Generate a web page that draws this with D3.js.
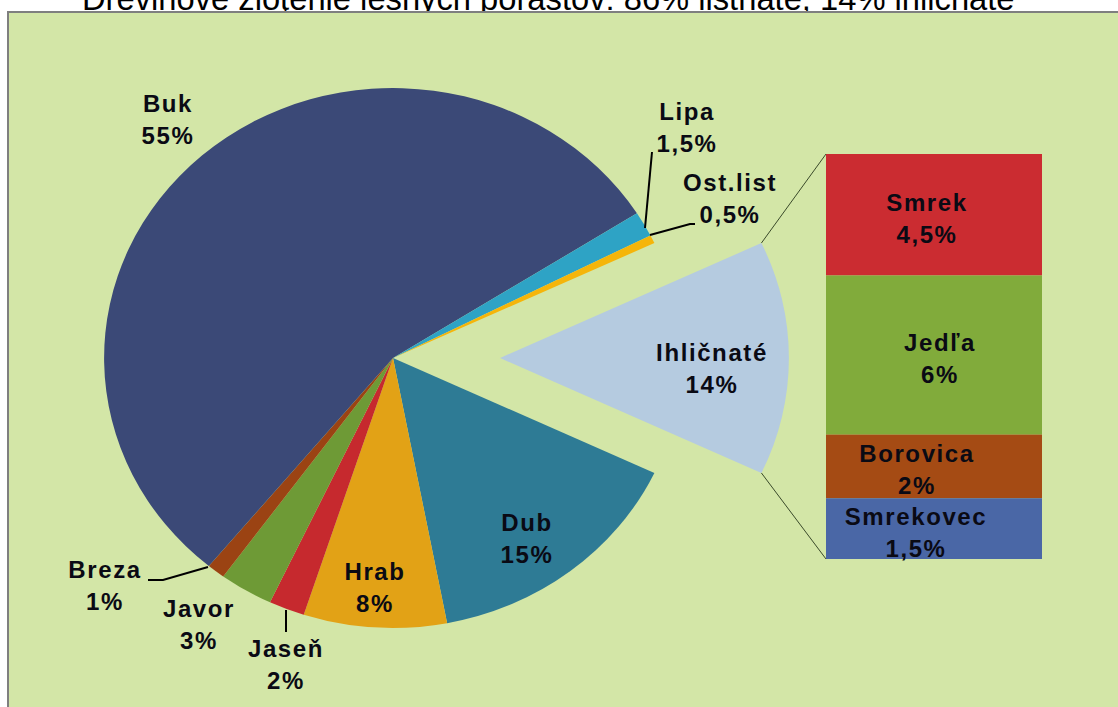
<!DOCTYPE html>
<html>
<head>
<meta charset="utf-8">
<script src="https://cdn.jsdelivr.net/npm/d3@7"></script>
<style>
  body { margin: 0; background: #fff; }
  svg { display: block; }
  text { font-family: "Liberation Sans", Arial, sans-serif; }
</style>
</head>
<body>
<svg id="chart"></svg>
<script>
var width = 1118;
var height = 707;

// main pie, clockwise starting with the split-off slice
var pieNames = ["Ihličnaté", "Dub", "Hrab", "Jaseň", "Javor", "Breza", "Buk", "Lipa", "Ost.list"];
var pieValues = [14, 15, 8, 2, 3, 1, 55, 1.5, 0.5];
var pieLabels = ["14%", "15%", "8%", "2%", "3%", "1%", "55%", "1,5%", "0,5%"];
var pieColors = ["#b5cbe0", "#2e7b95", "#e2a216", "#c6292e", "#6e9a36", "#9b4313", "#3b4977", "#2ea3c5", "#f5b50a"];

// bar of pie (breakdown of Ihličnaté)
var barNames = ["Smrek", "Jedľa", "Borovica", "Smrekovec"];
var barValues = [4.2, 5.5, 2.2, 2.1];
var barLabels = ["4,5%", "6%", "2%", "1,5%"];
var barColors = ["#cb2c31", "#81ab3b", "#a54b14", "#4a67a6"];

var titleText = "Drevinové zloţenie lesných porastov: 86% listnaté, 14% ihličnaté";

//Geometry
var cx = 393, cy = 358;
var radius = 270;
var stretchX = 1.07; //pie is drawn slightly wider than tall
var explode = 100;
var startDeg = 64.8;

//Label anchors (x center, first baseline)
var pieLabelPos = [[712, 361], [527, 531], [375, 580], [286, 657], [199, 617], [105, 578], [168, 112], [687, 120], [730, 191]];
var barLabelDx = [-7, 6, -17, -18];

var svg = d3.select("#chart")
  .attr("width", width)
  .attr("height", height);

//Title (top half cut off in the original)
var title = svg.append("text")
  .attr("x", 82)
  .attr("y", 10)
  .attr("font-size", 30)
  .attr("fill", "#000")
  .text(titleText);
var tl = title.node().getComputedTextLength();
title.attr("font-size", 30 * 933 / tl);

//Plot panel
svg.append("rect")
  .attr("x", 8)
  .attr("y", 12)
  .attr("width", width + 20)
  .attr("height", height + 20)
  .attr("fill", "#d3e6a7")
  .attr("stroke", "#7f7f7f")
  .attr("stroke-width", 2);

var pie = d3.pie()
  .sort(null)
  .value(function(d) { return d; })
  .startAngle(startDeg * Math.PI / 180)
  .endAngle(startDeg * Math.PI / 180 + 2 * Math.PI);

var arcs = pie(pieValues);
var arc = d3.arc().innerRadius(0).outerRadius(radius);

var pieG = svg.append("g")
  .attr("transform", "translate(" + cx + "," + cy + ") scale(" + stretchX + ",1)");

pieG.selectAll("path")
  .data(arcs)
  .enter().append("path")
  .attr("d", arc)
  .attr("fill", function(d, i) { return pieColors[i]; })
  .attr("transform", function(d, i) { return i === 0 ? "translate(" + explode + ",0)" : null; });

//Bar of pie
var barX0 = 826, barX1 = 1042;
var yBar = d3.scaleLinear().domain([0, d3.sum(barValues)]).range([154, 559]);
var cum = 0;
var barData = barValues.map(function(v, i) {
  var d = { i: i, y0: cum, y1: cum + v };
  cum += v;
  return d;
});

svg.selectAll("rect.bar")
  .data(barData)
  .enter().append("rect")
  .attr("class", "bar")
  .attr("x", barX0)
  .attr("width", barX1 - barX0)
  .attr("y", function(d) { return yBar(d.y0); })
  .attr("height", function(d) { return yBar(d.y1) - yBar(d.y0); })
  .attr("fill", function(d) { return barColors[d.i]; });

//Connector lines from exploded slice corners to the bar
function slicePoint(angle) {
  var x = (Math.sin(angle) * radius + explode) * stretchX + cx;
  var y = -Math.cos(angle) * radius + cy;
  return [x, y];
}
var pTop = slicePoint(arcs[0].startAngle);
var pBot = slicePoint(arcs[0].endAngle);
svg.append("line")
  .attr("x1", pTop[0]).attr("y1", pTop[1])
  .attr("x2", barX0).attr("y2", yBar(0))
  .attr("stroke", "#3a4a2a").attr("stroke-width", 1);
svg.append("line")
  .attr("x1", pBot[0]).attr("y1", pBot[1])
  .attr("x2", barX0).attr("y2", yBar(d3.sum(barValues)))
  .attr("stroke", "#3a4a2a").attr("stroke-width", 1);

//Leader lines for small outer labels
var leaders = [
  [[652, 152], [645, 228]],
  [[695, 224], [690, 224], [650, 235]],
  [[148, 580], [163, 580], [208, 567]],
  [[286, 610], [286, 632]]
];
svg.selectAll("path.leader")
  .data(leaders)
  .enter().append("path")
  .attr("class", "leader")
  .attr("d", d3.line())
  .attr("fill", "none")
  .attr("stroke", "#000")
  .attr("stroke-width", 2);

function twoLineLabel(x, y, name, pct) {
  var t = svg.append("text")
    .attr("x", x)
    .attr("y", y)
    .attr("text-anchor", "middle")
    .attr("font-size", 24)
    .attr("font-weight", "bold")
    .attr("letter-spacing", 1.6)
    .attr("fill", "#0a0a14");
  t.append("tspan").attr("x", x).attr("y", y).text(name);
  t.append("tspan").attr("x", x).attr("y", y + 32).text(pct);
}

pieNames.forEach(function(n, i) {
  twoLineLabel(pieLabelPos[i][0], pieLabelPos[i][1], n, pieLabels[i]);
});

barData.forEach(function(d) {
  var mid = (yBar(d.y0) + yBar(d.y1)) / 2;
  twoLineLabel((barX0 + barX1) / 2 + barLabelDx[d.i], mid - 4, barNames[d.i], barLabels[d.i]);
});
</script>
</body>
</html>
